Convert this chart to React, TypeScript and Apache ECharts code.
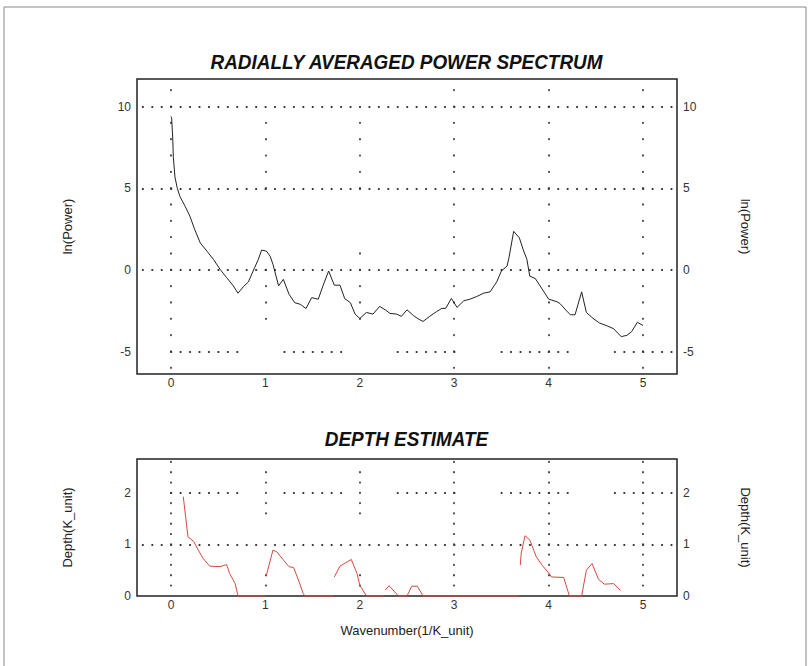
import React, { useEffect, useRef } from "react";
import * as echarts from "echarts";

// Radially averaged power spectrum (wavenumber, ln(power))
const powerX = [0.0, 0.007, 0.018, 0.025, 0.042, 0.067, 0.095, 0.15, 0.2, 0.25, 0.31, 0.38, 0.45, 0.52, 0.59, 0.66, 0.71, 0.77, 0.82, 0.87, 0.925, 0.96, 1.01, 1.05, 1.08, 1.14, 1.19, 1.25, 1.31, 1.37, 1.43, 1.49, 1.56, 1.61, 1.67, 1.73, 1.79, 1.84, 1.9, 1.95, 2.0, 2.07, 2.14, 2.21, 2.27, 2.32, 2.39, 2.44, 2.5, 2.57, 2.62, 2.67, 2.74, 2.81, 2.87, 2.91, 2.97, 3.03, 3.1, 3.17, 3.24, 3.31, 3.38, 3.45, 3.5, 3.56, 3.58, 3.63, 3.69, 3.73, 3.77, 3.8, 3.86, 3.91, 3.96, 4.0, 4.09, 4.12, 4.19, 4.23, 4.28, 4.35, 4.4, 4.47, 4.54, 4.61, 4.69, 4.73, 4.77, 4.83, 4.88, 4.94, 5.0];
const powerY = [9.4, 9.3, 8.15, 6.9, 5.7, 5.0, 4.5, 3.9, 3.3, 2.5, 1.66, 1.16, 0.65, 0.04, -0.47, -0.97, -1.42, -1.0, -0.73, -0.06, 0.65, 1.22, 1.16, 0.85, 0.35, -0.97, -0.57, -1.48, -2.0, -2.1, -2.36, -1.69, -1.79, -0.97, -0.06, -0.93, -0.93, -1.75, -2.0, -2.7, -2.97, -2.6, -2.7, -2.23, -2.44, -2.66, -2.7, -2.84, -2.44, -2.8, -3.0, -3.15, -2.84, -2.56, -2.35, -2.35, -1.74, -2.29, -1.89, -1.78, -1.62, -1.42, -1.34, -0.73, -0.06, 0.24, 0.75, 2.37, 1.97, 1.26, 0.65, -0.37, -0.53, -0.97, -1.42, -1.78, -1.95, -2.05, -2.5, -2.74, -2.74, -1.34, -2.6, -2.96, -3.25, -3.4, -3.6, -3.85, -4.08, -4.0, -3.77, -3.2, -3.4];

// Depth estimate (null = break in the line)
const depthX = [0.13, 0.18, 0.24, 0.29, 0.34, 0.41, 0.52, 0.59, 0.62, 0.68, 0.71, 1.0, 1.0, 1.01, 1.08, 1.12, 1.19, 1.25, 1.3, 1.35, 1.4, 1.42, 1.72, 1.72, 1.73, 1.79, 1.91, 1.97, 2.0, 2.07, 2.26, 2.26, 2.27, 2.31, 2.37, 2.41, 2.5, 2.55, 2.61, 2.67, 3.69, 3.69, 3.7, 3.71, 3.75, 3.8, 3.87, 3.93, 4.0, 4.03, 4.16, 4.22, 4.35, 4.4, 4.46, 4.53, 4.59, 4.69, 4.76];
const depthY = [1.93, 1.15, 1.06, 0.89, 0.73, 0.58, 0.57, 0.61, 0.44, 0.24, 0, 0, null, 0.4, 0.89, 0.86, 0.7, 0.57, 0.55, 0.31, 0.05, 0, 0, null, 0.37, 0.58, 0.71, 0.44, 0.21, 0, 0, null, 0.12, 0.2, 0.08, 0, 0, 0.19, 0.19, 0, 0, null, 0.6, 0.83, 1.17, 1.09, 0.76, 0.6, 0.45, 0.37, 0.36, 0, 0, 0.5, 0.63, 0.32, 0.23, 0.24, 0.11];

// Tick labels
const xTicks = [0, 1, 2, 3, 4, 5];
const powerTicks = [-5, 0, 5, 10];
const depthTicks = [0, 1, 2];

// Dotted grid segments: horizontal [y, x1, x2], vertical [x, y1, y2]
const topHGrid = [[10, -0.3, 5.3], [5, -0.3, 5.3], [0, -0.3, 5.3], [-5, 0, 0.7], [-5, 1.2, 1.8], [-5, 2.4, 3.0], [-5, 3.5, 4.2], [-5, 4.7, 5.3]];
const topVGrid = [[0, -6, 11], [1, -3, 0], [1, 5, 9], [2, -3, 1], [2, 5, 9], [3, -6, 11], [4, -6, 11], [5, -6, 11]];
const botHGrid = [[1, -0.3, 5.3], [2, 0, 0.7], [2, 1.2, 1.8], [2, 2.4, 3.0], [2, 3.5, 4.2], [2, 4.7, 5.3]];
const botVGrid = [[0, 0.2, 2.6], [1, 0.2, 0.4], [1, 1.6, 2.4], [2, 0.2, 0.4], [2, 1.6, 2.4], [3, 0.2, 2.6], [4, 0.2, 2.6], [5, 0.2, 2.6]];

const FONT = "'Liberation Sans', Arial, sans-serif";

function dotted(data: any[], xi: number, yi: number, stepPx: number) {
  return {
    type: "lines",
    coordinateSystem: "cartesian2d",
    xAxisIndex: xi,
    yAxisIndex: yi,
    silent: true,
    polyline: false,
    z: 1,
    lineStyle: { color: "#333", width: 1.8, opacity: 1, type: [0.4, stepPx - 0.4], cap: "round", curveness: 0 },
    data,
  };
}

export default function App() {
  const ref = useRef<HTMLDivElement>(null);
  useEffect(() => {
    if (!ref.current) return;
    const chart = echarts.init(ref.current, null, { renderer: "svg" });
    const hSeg = (arr: number[][], ext: number) => arr.map(([y, x1, x2]) => ({ coords: [[x1, y], [x2 + ext, y]] }));
    const vSeg = (arr: number[][], ext: number) => arr.map(([x, y1, y2]) => ({ coords: [[x, y1], [x, y2 + ext]] }));

    const xAxisBase = (gi: number) => ({
      type: "value",
      gridIndex: gi,
      min: -0.36,
      max: 5.36,
      splitLine: { show: false },
      axisLine: { show: false },
      axisTick: { show: false },
      axisLabel: { customValues: xTicks, fontSize: 12, color: "#333", margin: 3, fontFamily: FONT },
    });
    const yAxisBase = (gi: number, min: number, max: number, ticks: number[], pos: string, name: string) => ({
      type: "value",
      gridIndex: gi,
      min,
      max,
      position: pos,
      splitLine: { show: false },
      axisLine: { show: false },
      axisTick: { show: false },
      axisLabel: { customValues: ticks, fontSize: 12, color: "#333", margin: 6, fontFamily: FONT },
      name,
      nameLocation: "middle",
      nameRotate: pos === "left" ? 90 : -90,
      nameGap: pos === "left" ? 63 : 62,
      nameTextStyle: { fontSize: 13, color: "#222", fontFamily: FONT },
    });

    chart.setOption({
      animation: false,
      backgroundColor: "#fff",
      grid: [
        { left: 137, top: 79, width: 540, height: 295, show: true, borderColor: "#222", borderWidth: 1.5, backgroundColor: "transparent" },
        { left: 137, top: 459, width: 540, height: 137, show: true, borderColor: "#222", borderWidth: 1.5, backgroundColor: "transparent" },
      ],
      xAxis: [
        xAxisBase(0),
        {
          ...xAxisBase(1),
          name: "Wavenumber(1/K_unit)",
          nameLocation: "middle",
          nameGap: 28,
          nameTextStyle: { fontSize: 13, color: "#222", fontFamily: FONT },
        },
      ],
      yAxis: [
        yAxisBase(0, -6.37, 11.7, powerTicks, "left", "ln(Power)"),
        yAxisBase(0, -6.37, 11.7, powerTicks, "right", "ln(Power)"),
        yAxisBase(1, 0, 2.66, depthTicks, "left", "Depth(K_unit)"),
        yAxisBase(1, 0, 2.66, depthTicks, "right", "Depth(K_unit)"),
      ],
      graphic: [
        { type: "rect", shape: { x: 4, y: 7, width: 802, height: 700 }, style: { fill: "none", stroke: "#888", lineWidth: 1 }, silent: true },
        {
          type: "text", x: 406.5, y: 62, scaleX: 0.9,
          style: { text: "RADIALLY AVERAGED POWER SPECTRUM", fontSize: 21, fontWeight: "bold", fontStyle: "italic", fontFamily: FONT, fill: "#111", align: "center", verticalAlign: "middle", textAlign: "center", textVerticalAlign: "middle" },
        },
        {
          type: "text", x: 406.5, y: 439, scaleX: 0.9,
          style: { text: "DEPTH ESTIMATE", fontSize: 21, fontWeight: "bold", fontStyle: "italic", fontFamily: FONT, fill: "#111", align: "center", verticalAlign: "middle", textAlign: "center", textVerticalAlign: "middle" },
        },
      ],
      series: [
        dotted(hSeg(topHGrid, 0.01), 0, 0, 9.44),
        dotted(vSeg(topVGrid, 0.05), 0, 0, 16.33),
        dotted(hSeg(botHGrid, 0.01), 1, 2, 9.44),
        dotted(vSeg(botVGrid, 0.02), 1, 2, 10.3),
        {
          type: "line",
          xAxisIndex: 0,
          yAxisIndex: 0,
          data: powerX.map((x, i) => [x, powerY[i]]),
          symbol: "none",
          showSymbol: false,
          lineStyle: { color: "#222", width: 1 },
          z: 3,
          silent: true,
        },
        {
          type: "line",
          xAxisIndex: 1,
          yAxisIndex: 2,
          data: depthX.map((x, i) => [x, depthY[i] === null ? "-" : depthY[i]]),
          symbol: "none",
          showSymbol: false,
          connectNulls: false,
          clip: false,
          lineStyle: { color: "#d9473f", width: 1 },
          z: 5,
          silent: true,
        },
      ],
    });
    return () => chart.dispose();
  }, []);
  return <div ref={ref} style={{ position: "absolute", left: 0, top: 0, width: 812, height: 666 }} />;
}
